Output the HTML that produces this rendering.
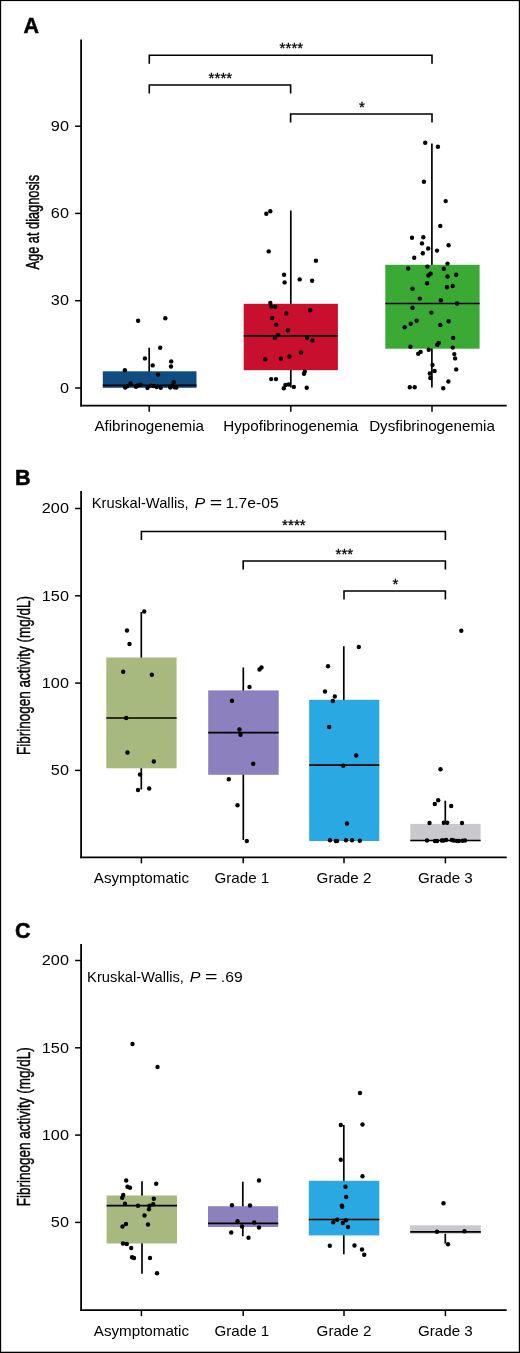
<!DOCTYPE html>
<html lang="en">
<head>
<meta charset="utf-8">
<title>Figure: age at diagnosis and fibrinogen activity</title>
<style>
html,body{margin:0;padding:0;background:#fff;}
body{width:520px;height:1353px;overflow:hidden;position:relative;}
svg{display:block;position:absolute;left:0;top:0;}
svg text{font-family:"Liberation Sans", sans-serif;fill:#000;}
svg circle{fill:#000;}
</style>
</head>
<body>
<svg width="520" height="1353" viewBox="0 0 520 1353">
<rect x="0" y="0" width="520" height="1353" fill="#fff"/>
<rect x="0" y="0" width="1.15" height="1353" fill="#000"/>
<rect x="0" y="0" width="520" height="1.1" fill="#000"/>
<rect x="518.8" y="0" width="1.2" height="1353" fill="#000"/>
<rect x="0" y="1351.7" width="520" height="1.3" fill="#000"/>
<g id="panelA">
<text x="23.40" y="32.60" font-size="21.5" text-anchor="start" font-weight="bold" stroke="#000" stroke-width="0.5">A</text>
<line x1="81.10" y1="39.50" x2="81.10" y2="406.60" stroke="#000" stroke-width="1.8"/>
<line x1="80.20" y1="405.70" x2="506.70" y2="405.70" stroke="#000" stroke-width="1.8"/>
<line x1="75.10" y1="126.20" x2="81.10" y2="126.20" stroke="#000" stroke-width="1.5"/>
<text transform="translate(68.90 130.90) scale(1.135 1)" font-size="14.3" text-anchor="end" font-weight="normal">90</text>
<line x1="75.10" y1="213.40" x2="81.10" y2="213.40" stroke="#000" stroke-width="1.5"/>
<text transform="translate(68.90 218.10) scale(1.135 1)" font-size="14.3" text-anchor="end" font-weight="normal">60</text>
<line x1="75.10" y1="300.70" x2="81.10" y2="300.70" stroke="#000" stroke-width="1.5"/>
<text transform="translate(68.90 305.40) scale(1.135 1)" font-size="14.3" text-anchor="end" font-weight="normal">30</text>
<line x1="75.10" y1="388.00" x2="81.10" y2="388.00" stroke="#000" stroke-width="1.5"/>
<text transform="translate(68.90 392.70) scale(1.135 1)" font-size="14.3" text-anchor="end" font-weight="normal">0</text>
<line x1="149.20" y1="405.70" x2="149.20" y2="411.70" stroke="#000" stroke-width="1.5"/>
<text transform="translate(149.20 431.30) scale(1.1 1)" font-size="13.8" text-anchor="middle" font-weight="normal">Afibrinogenemia</text>
<line x1="290.80" y1="405.70" x2="290.80" y2="411.70" stroke="#000" stroke-width="1.5"/>
<text transform="translate(290.80 431.30) scale(1.1 1)" font-size="13.8" text-anchor="middle" font-weight="normal">Hypofibrinogenemia</text>
<line x1="432.00" y1="405.70" x2="432.00" y2="411.70" stroke="#000" stroke-width="1.5"/>
<text transform="translate(432.00 431.30) scale(1.1 1)" font-size="13.8" text-anchor="middle" font-weight="normal">Dysfibrinogenemia</text>
<text transform="translate(39.00 222.20) rotate(-90) scale(0.695 1)" font-size="18.4" text-anchor="middle" stroke="#000" stroke-width="0.45">Age at diagnosis</text>
<path d="M149.30 63.80V55.20H432.00V63.80" fill="none" stroke="#000" stroke-width="1.6"/>
<text x="291.40" y="53.30" font-size="15.0" text-anchor="middle" font-weight="normal" stroke="#000" stroke-width="0.3" letter-spacing="0.1">****</text>
<path d="M149.30 93.60V85.00H290.60V93.60" fill="none" stroke="#000" stroke-width="1.6"/>
<text x="220.40" y="83.10" font-size="15.0" text-anchor="middle" font-weight="normal" stroke="#000" stroke-width="0.3" letter-spacing="0.1">****</text>
<path d="M290.60 122.60V114.00H432.00V122.60" fill="none" stroke="#000" stroke-width="1.6"/>
<text x="361.90" y="112.10" font-size="15.0" text-anchor="middle" font-weight="normal" stroke="#000" stroke-width="0.3" letter-spacing="0.1">*</text>
<line x1="149.20" y1="347.70" x2="149.20" y2="387.80" stroke="#000" stroke-width="1.7"/>
<rect x="102.80" y="371.30" width="93.70" height="16.50" fill="#0f4c81"/>
<line x1="102.80" y1="385.30" x2="196.50" y2="385.30" stroke="#000" stroke-width="1.7"/>
<line x1="290.80" y1="210.50" x2="290.80" y2="387.50" stroke="#000" stroke-width="1.7"/>
<rect x="243.70" y="303.80" width="94.20" height="66.40" fill="#c8102e"/>
<line x1="243.70" y1="335.80" x2="337.90" y2="335.80" stroke="#000" stroke-width="1.7"/>
<line x1="431.90" y1="143.50" x2="431.90" y2="387.50" stroke="#000" stroke-width="1.7"/>
<rect x="385.30" y="264.80" width="94.30" height="83.90" fill="#3aaa35"/>
<line x1="385.30" y1="303.50" x2="479.60" y2="303.50" stroke="#000" stroke-width="1.7"/>
<circle cx="138.1" cy="320.7" r="2.2"/>
<circle cx="165.3" cy="318.3" r="2.2"/>
<circle cx="160.2" cy="347.7" r="2.2"/>
<circle cx="144.9" cy="358.4" r="2.2"/>
<circle cx="171.2" cy="361.4" r="2.2"/>
<circle cx="152.7" cy="365.4" r="2.2"/>
<circle cx="171.0" cy="366.5" r="2.2"/>
<circle cx="124.9" cy="370.3" r="2.2"/>
<circle cx="158.0" cy="374.6" r="2.2"/>
<circle cx="130.6" cy="383.5" r="2.2"/>
<circle cx="173.7" cy="382.1" r="2.2"/>
<circle cx="125.2" cy="387.5" r="2.2"/>
<circle cx="127.1" cy="386.3" r="2.2"/>
<circle cx="136.0" cy="386.8" r="2.2"/>
<circle cx="137.8" cy="385.5" r="2.2"/>
<circle cx="140.5" cy="384.8" r="2.2"/>
<circle cx="147.5" cy="387.9" r="2.2"/>
<circle cx="150.8" cy="385.6" r="2.2"/>
<circle cx="153.5" cy="386.0" r="2.2"/>
<circle cx="156.7" cy="387.0" r="2.2"/>
<circle cx="160.7" cy="387.8" r="2.2"/>
<circle cx="170.2" cy="387.5" r="2.2"/>
<circle cx="172.3" cy="385.8" r="2.2"/>
<circle cx="174.5" cy="387.2" r="2.2"/>
<circle cx="176.4" cy="387.6" r="2.2"/>
<circle cx="266.3" cy="213.7" r="2.2"/>
<circle cx="270.3" cy="211.3" r="2.2"/>
<circle cx="268.7" cy="251.4" r="2.2"/>
<circle cx="315.9" cy="260.8" r="2.2"/>
<circle cx="284.1" cy="274.8" r="2.2"/>
<circle cx="284.6" cy="282.4" r="2.2"/>
<circle cx="299.7" cy="279.4" r="2.2"/>
<circle cx="312.1" cy="280.7" r="2.2"/>
<circle cx="270.3" cy="303.0" r="2.2"/>
<circle cx="271.2" cy="306.5" r="2.2"/>
<circle cx="275.2" cy="306.7" r="2.2"/>
<circle cx="286.2" cy="313.4" r="2.2"/>
<circle cx="310.2" cy="310.2" r="2.2"/>
<circle cx="272.2" cy="318.0" r="2.2"/>
<circle cx="276.3" cy="324.7" r="2.2"/>
<circle cx="287.8" cy="330.2" r="2.2"/>
<circle cx="277.9" cy="335.0" r="2.2"/>
<circle cx="274.9" cy="337.9" r="2.2"/>
<circle cx="307.0" cy="337.9" r="2.2"/>
<circle cx="312.4" cy="340.4" r="2.2"/>
<circle cx="301.0" cy="352.5" r="2.2"/>
<circle cx="289.5" cy="356.5" r="2.2"/>
<circle cx="280.9" cy="358.7" r="2.2"/>
<circle cx="265.2" cy="359.2" r="2.2"/>
<circle cx="304.8" cy="371.6" r="2.2"/>
<circle cx="304.0" cy="373.7" r="2.2"/>
<circle cx="271.2" cy="379.1" r="2.2"/>
<circle cx="276.0" cy="379.1" r="2.2"/>
<circle cx="285.4" cy="385.0" r="2.2"/>
<circle cx="288.7" cy="384.5" r="2.2"/>
<circle cx="283.8" cy="388.3" r="2.2"/>
<circle cx="293.8" cy="386.9" r="2.2"/>
<circle cx="306.7" cy="387.7" r="2.2"/>
<circle cx="425.2" cy="142.7" r="2.2"/>
<circle cx="437.9" cy="146.7" r="2.2"/>
<circle cx="423.9" cy="181.7" r="2.2"/>
<circle cx="445.7" cy="201.1" r="2.2"/>
<circle cx="440.3" cy="225.9" r="2.2"/>
<circle cx="412.0" cy="237.7" r="2.2"/>
<circle cx="423.3" cy="237.2" r="2.2"/>
<circle cx="422.0" cy="243.4" r="2.2"/>
<circle cx="448.6" cy="245.2" r="2.2"/>
<circle cx="428.2" cy="248.5" r="2.2"/>
<circle cx="437.0" cy="250.6" r="2.2"/>
<circle cx="422.8" cy="253.3" r="2.2"/>
<circle cx="414.2" cy="257.7" r="2.2"/>
<circle cx="447.5" cy="263.6" r="2.2"/>
<circle cx="427.4" cy="266.6" r="2.2"/>
<circle cx="408.2" cy="268.5" r="2.2"/>
<circle cx="443.8" cy="268.7" r="2.2"/>
<circle cx="430.6" cy="273.8" r="2.2"/>
<circle cx="428.4" cy="275.5" r="2.2"/>
<circle cx="447.5" cy="276.5" r="2.2"/>
<circle cx="456.2" cy="274.7" r="2.2"/>
<circle cx="427.1" cy="283.3" r="2.2"/>
<circle cx="412.5" cy="288.7" r="2.2"/>
<circle cx="447.0" cy="287.3" r="2.2"/>
<circle cx="452.7" cy="286.0" r="2.2"/>
<circle cx="419.8" cy="298.6" r="2.2"/>
<circle cx="440.8" cy="300.2" r="2.2"/>
<circle cx="457.0" cy="303.5" r="2.2"/>
<circle cx="412.5" cy="307.8" r="2.2"/>
<circle cx="431.4" cy="312.6" r="2.2"/>
<circle cx="416.6" cy="320.7" r="2.2"/>
<circle cx="410.7" cy="323.7" r="2.2"/>
<circle cx="404.7" cy="327.2" r="2.2"/>
<circle cx="448.6" cy="321.2" r="2.2"/>
<circle cx="440.3" cy="325.0" r="2.2"/>
<circle cx="453.2" cy="337.9" r="2.2"/>
<circle cx="438.7" cy="343.0" r="2.2"/>
<circle cx="437.3" cy="344.7" r="2.2"/>
<circle cx="410.4" cy="346.8" r="2.2"/>
<circle cx="452.7" cy="347.6" r="2.2"/>
<circle cx="428.7" cy="349.8" r="2.2"/>
<circle cx="420.6" cy="351.9" r="2.2"/>
<circle cx="418.2" cy="353.8" r="2.2"/>
<circle cx="454.3" cy="354.1" r="2.2"/>
<circle cx="455.1" cy="358.4" r="2.2"/>
<circle cx="432.5" cy="364.9" r="2.2"/>
<circle cx="456.2" cy="369.4" r="2.2"/>
<circle cx="434.6" cy="371.0" r="2.2"/>
<circle cx="429.8" cy="373.5" r="2.2"/>
<circle cx="430.3" cy="378.0" r="2.2"/>
<circle cx="448.4" cy="381.5" r="2.2"/>
<circle cx="409.8" cy="387.2" r="2.2"/>
<circle cx="414.7" cy="387.2" r="2.2"/>
<circle cx="443.2" cy="388.3" r="2.2"/>
</g>
<g id="panelB">
<text x="15.00" y="485.30" font-size="21.5" text-anchor="start" font-weight="bold" stroke="#000" stroke-width="0.5">B</text>
<line x1="81.10" y1="491.00" x2="81.10" y2="858.20" stroke="#000" stroke-width="1.8"/>
<line x1="80.20" y1="857.30" x2="506.70" y2="857.30" stroke="#000" stroke-width="1.8"/>
<line x1="75.10" y1="508.50" x2="81.10" y2="508.50" stroke="#000" stroke-width="1.5"/>
<text transform="translate(68.90 513.20) scale(1.135 1)" font-size="14.3" text-anchor="end" font-weight="normal">200</text>
<line x1="75.10" y1="595.80" x2="81.10" y2="595.80" stroke="#000" stroke-width="1.5"/>
<text transform="translate(68.90 600.50) scale(1.135 1)" font-size="14.3" text-anchor="end" font-weight="normal">150</text>
<line x1="75.10" y1="683.10" x2="81.10" y2="683.10" stroke="#000" stroke-width="1.5"/>
<text transform="translate(68.90 687.80) scale(1.135 1)" font-size="14.3" text-anchor="end" font-weight="normal">100</text>
<line x1="75.10" y1="770.40" x2="81.10" y2="770.40" stroke="#000" stroke-width="1.5"/>
<text transform="translate(68.90 775.10) scale(1.135 1)" font-size="14.3" text-anchor="end" font-weight="normal">50</text>
<line x1="141.40" y1="857.30" x2="141.40" y2="863.30" stroke="#000" stroke-width="1.5"/>
<text transform="translate(141.40 883.10) scale(1.1 1)" font-size="13.8" text-anchor="middle" font-weight="normal">Asymptomatic</text>
<line x1="243.20" y1="857.30" x2="243.20" y2="863.30" stroke="#000" stroke-width="1.5"/>
<text transform="translate(241.90 883.10) scale(1.1 1)" font-size="13.8" text-anchor="middle" font-weight="normal">Grade 1</text>
<line x1="344.00" y1="857.30" x2="344.00" y2="863.30" stroke="#000" stroke-width="1.5"/>
<text transform="translate(344.00 883.10) scale(1.1 1)" font-size="13.8" text-anchor="middle" font-weight="normal">Grade 2</text>
<line x1="445.40" y1="857.30" x2="445.40" y2="863.30" stroke="#000" stroke-width="1.5"/>
<text transform="translate(445.40 883.10) scale(1.1 1)" font-size="13.8" text-anchor="middle" font-weight="normal">Grade 3</text>
<text transform="translate(30.20 675.50) rotate(-90) scale(0.734 1)" font-size="18.4" text-anchor="middle" stroke="#000" stroke-width="0.45">Fibrinogen activity (mg/dL)</text>
<g font-size="13.8">
<text transform="translate(91.80 507.6) scale(1.068 1)">Kruskal-Wallis,</text>
<text transform="translate(194.50 507.6) scale(1.17 1)" font-style="italic">P</text>
<text transform="translate(209.80 507.6) scale(1.55 1)">=</text>
<text transform="translate(225.50 507.6) scale(1.137 1)">1.7e-05</text>
</g>
<path d="M141.40 540.10V531.50H445.40V540.10" fill="none" stroke="#000" stroke-width="1.6"/>
<text x="293.90" y="529.60" font-size="15.0" text-anchor="middle" font-weight="normal" stroke="#000" stroke-width="0.3" letter-spacing="0.1">****</text>
<path d="M243.20 569.60V561.00H445.40V569.60" fill="none" stroke="#000" stroke-width="1.6"/>
<text x="344.40" y="559.10" font-size="15.0" text-anchor="middle" font-weight="normal" stroke="#000" stroke-width="0.3" letter-spacing="0.1">***</text>
<path d="M344.00 599.60V591.00H445.40V599.60" fill="none" stroke="#000" stroke-width="1.6"/>
<text x="395.40" y="589.10" font-size="15.0" text-anchor="middle" font-weight="normal" stroke="#000" stroke-width="0.3" letter-spacing="0.1">*</text>
<line x1="141.30" y1="612.00" x2="141.30" y2="789.50" stroke="#000" stroke-width="1.7"/>
<rect x="106.30" y="657.50" width="70.30" height="110.80" fill="#a8b97f"/>
<line x1="106.30" y1="718.00" x2="176.60" y2="718.00" stroke="#000" stroke-width="1.7"/>
<line x1="243.30" y1="667.50" x2="243.30" y2="840.00" stroke="#000" stroke-width="1.7"/>
<rect x="208.20" y="690.40" width="70.50" height="84.40" fill="#8d80bf"/>
<line x1="208.20" y1="732.60" x2="278.70" y2="732.60" stroke="#000" stroke-width="1.7"/>
<line x1="343.80" y1="646.20" x2="343.80" y2="841.00" stroke="#000" stroke-width="1.7"/>
<rect x="309.20" y="699.80" width="70.10" height="141.20" fill="#29a8e1"/>
<line x1="309.20" y1="765.20" x2="379.30" y2="765.20" stroke="#000" stroke-width="1.7"/>
<line x1="445.30" y1="800.70" x2="445.30" y2="841.00" stroke="#000" stroke-width="1.7"/>
<rect x="410.30" y="823.90" width="70.30" height="17.30" fill="#c9c9cd"/>
<line x1="410.30" y1="840.50" x2="480.60" y2="840.50" stroke="#000" stroke-width="1.7"/>
<circle cx="144.2" cy="611.5" r="2.2"/>
<circle cx="127.0" cy="630.5" r="2.2"/>
<circle cx="129.5" cy="644.0" r="2.2"/>
<circle cx="123.2" cy="671.8" r="2.2"/>
<circle cx="151.8" cy="674.8" r="2.2"/>
<circle cx="126.2" cy="718.0" r="2.2"/>
<circle cx="127.5" cy="752.5" r="2.2"/>
<circle cx="153.8" cy="761.5" r="2.2"/>
<circle cx="140.0" cy="774.5" r="2.2"/>
<circle cx="138.0" cy="790.0" r="2.2"/>
<circle cx="149.2" cy="788.5" r="2.2"/>
<circle cx="259.5" cy="669.5" r="2.2"/>
<circle cx="261.5" cy="667.5" r="2.2"/>
<circle cx="249.5" cy="687.0" r="2.2"/>
<circle cx="232.0" cy="700.8" r="2.2"/>
<circle cx="239.5" cy="729.5" r="2.2"/>
<circle cx="240.5" cy="734.8" r="2.2"/>
<circle cx="253.2" cy="763.8" r="2.2"/>
<circle cx="228.8" cy="779.2" r="2.2"/>
<circle cx="237.5" cy="805.2" r="2.2"/>
<circle cx="246.8" cy="841.0" r="2.2"/>
<circle cx="358.8" cy="647.0" r="2.2"/>
<circle cx="328.0" cy="666.2" r="2.2"/>
<circle cx="325.0" cy="691.5" r="2.2"/>
<circle cx="334.8" cy="696.5" r="2.2"/>
<circle cx="332.8" cy="701.0" r="2.2"/>
<circle cx="329.2" cy="727.0" r="2.2"/>
<circle cx="356.2" cy="755.5" r="2.2"/>
<circle cx="343.2" cy="765.8" r="2.2"/>
<circle cx="347.0" cy="823.5" r="2.2"/>
<circle cx="330.0" cy="840.3" r="2.2"/>
<circle cx="335.8" cy="841.0" r="2.2"/>
<circle cx="337.0" cy="841.0" r="2.2"/>
<circle cx="346.0" cy="840.2" r="2.2"/>
<circle cx="352.0" cy="840.3" r="2.2"/>
<circle cx="359.8" cy="840.8" r="2.2"/>
<circle cx="461.3" cy="630.7" r="2.2"/>
<circle cx="440.5" cy="769.2" r="2.2"/>
<circle cx="438.2" cy="800.2" r="2.2"/>
<circle cx="434.8" cy="804.0" r="2.2"/>
<circle cx="451.2" cy="806.0" r="2.2"/>
<circle cx="429.5" cy="823.0" r="2.2"/>
<circle cx="443.8" cy="822.8" r="2.2"/>
<circle cx="447.2" cy="822.8" r="2.2"/>
<circle cx="462.0" cy="823.0" r="2.2"/>
<circle cx="427.0" cy="840.5" r="2.2"/>
<circle cx="435.0" cy="841.0" r="2.2"/>
<circle cx="437.0" cy="841.0" r="2.2"/>
<circle cx="441.8" cy="840.5" r="2.2"/>
<circle cx="443.5" cy="840.5" r="2.2"/>
<circle cx="446.2" cy="840.0" r="2.2"/>
<circle cx="451.8" cy="840.0" r="2.2"/>
<circle cx="453.8" cy="840.5" r="2.2"/>
<circle cx="457.0" cy="841.0" r="2.2"/>
<circle cx="458.8" cy="841.0" r="2.2"/>
<circle cx="462.5" cy="840.8" r="2.2"/>
<circle cx="465.0" cy="840.5" r="2.2"/>
</g>
<g id="panelC">
<text x="15.00" y="938.30" font-size="21.5" text-anchor="start" font-weight="bold" stroke="#000" stroke-width="0.5">C</text>
<line x1="81.10" y1="944.00" x2="81.10" y2="1311.00" stroke="#000" stroke-width="1.8"/>
<line x1="80.20" y1="1310.10" x2="506.70" y2="1310.10" stroke="#000" stroke-width="1.8"/>
<line x1="75.10" y1="960.50" x2="81.10" y2="960.50" stroke="#000" stroke-width="1.5"/>
<text transform="translate(68.90 965.20) scale(1.135 1)" font-size="14.3" text-anchor="end" font-weight="normal">200</text>
<line x1="75.10" y1="1047.80" x2="81.10" y2="1047.80" stroke="#000" stroke-width="1.5"/>
<text transform="translate(68.90 1052.50) scale(1.135 1)" font-size="14.3" text-anchor="end" font-weight="normal">150</text>
<line x1="75.10" y1="1135.10" x2="81.10" y2="1135.10" stroke="#000" stroke-width="1.5"/>
<text transform="translate(68.90 1139.80) scale(1.135 1)" font-size="14.3" text-anchor="end" font-weight="normal">100</text>
<line x1="75.10" y1="1222.40" x2="81.10" y2="1222.40" stroke="#000" stroke-width="1.5"/>
<text transform="translate(68.90 1227.10) scale(1.135 1)" font-size="14.3" text-anchor="end" font-weight="normal">50</text>
<line x1="141.40" y1="1310.10" x2="141.40" y2="1316.10" stroke="#000" stroke-width="1.5"/>
<text transform="translate(141.40 1335.60) scale(1.1 1)" font-size="13.8" text-anchor="middle" font-weight="normal">Asymptomatic</text>
<line x1="243.20" y1="1310.10" x2="243.20" y2="1316.10" stroke="#000" stroke-width="1.5"/>
<text transform="translate(241.90 1335.60) scale(1.1 1)" font-size="13.8" text-anchor="middle" font-weight="normal">Grade 1</text>
<line x1="344.00" y1="1310.10" x2="344.00" y2="1316.10" stroke="#000" stroke-width="1.5"/>
<text transform="translate(344.00 1335.60) scale(1.1 1)" font-size="13.8" text-anchor="middle" font-weight="normal">Grade 2</text>
<line x1="445.40" y1="1310.10" x2="445.40" y2="1316.10" stroke="#000" stroke-width="1.5"/>
<text transform="translate(445.40 1335.60) scale(1.1 1)" font-size="13.8" text-anchor="middle" font-weight="normal">Grade 3</text>
<text transform="translate(30.20 1126.80) rotate(-90) scale(0.734 1)" font-size="18.4" text-anchor="middle" stroke="#000" stroke-width="0.45">Fibrinogen activity (mg/dL)</text>
<g font-size="13.8">
<text transform="translate(87.10 982.3) scale(1.068 1)">Kruskal-Wallis,</text>
<text transform="translate(189.80 982.3) scale(1.17 1)" font-style="italic">P</text>
<text transform="translate(205.10 982.3) scale(1.55 1)">=</text>
<text transform="translate(220.80 982.3) scale(1.137 1)">.69</text>
</g>
<line x1="142.00" y1="1181.20" x2="142.00" y2="1273.70" stroke="#000" stroke-width="1.7"/>
<rect x="106.60" y="1195.50" width="70.40" height="48.00" fill="#a8b97f"/>
<line x1="106.60" y1="1205.70" x2="177.00" y2="1205.70" stroke="#000" stroke-width="1.7"/>
<line x1="242.80" y1="1181.70" x2="242.80" y2="1236.30" stroke="#000" stroke-width="1.7"/>
<rect x="208.00" y="1206.20" width="70.20" height="20.80" fill="#8d80bf"/>
<line x1="208.00" y1="1223.40" x2="278.20" y2="1223.40" stroke="#000" stroke-width="1.7"/>
<line x1="343.80" y1="1125.00" x2="343.80" y2="1254.30" stroke="#000" stroke-width="1.7"/>
<rect x="308.80" y="1180.80" width="70.50" height="54.60" fill="#29a8e1"/>
<line x1="308.80" y1="1219.50" x2="379.30" y2="1219.50" stroke="#000" stroke-width="1.7"/>
<line x1="445.30" y1="1229.00" x2="445.30" y2="1243.60" stroke="#000" stroke-width="1.7"/>
<rect x="410.20" y="1225.30" width="70.60" height="8.50" fill="#c9c9cd"/>
<line x1="410.20" y1="1231.80" x2="480.80" y2="1231.80" stroke="#000" stroke-width="1.7"/>
<circle cx="132.5" cy="1044.0" r="2.2"/>
<circle cx="157.5" cy="1067.0" r="2.2"/>
<circle cx="126.2" cy="1180.5" r="2.2"/>
<circle cx="156.2" cy="1183.8" r="2.2"/>
<circle cx="127.5" cy="1186.8" r="2.2"/>
<circle cx="130.0" cy="1187.8" r="2.2"/>
<circle cx="123.2" cy="1195.0" r="2.2"/>
<circle cx="122.2" cy="1197.8" r="2.2"/>
<circle cx="153.8" cy="1198.8" r="2.2"/>
<circle cx="125.0" cy="1203.8" r="2.2"/>
<circle cx="153.2" cy="1204.2" r="2.2"/>
<circle cx="138.0" cy="1205.8" r="2.2"/>
<circle cx="149.5" cy="1205.8" r="2.2"/>
<circle cx="149.0" cy="1209.2" r="2.2"/>
<circle cx="144.5" cy="1215.5" r="2.2"/>
<circle cx="126.0" cy="1224.0" r="2.2"/>
<circle cx="122.5" cy="1226.5" r="2.2"/>
<circle cx="148.0" cy="1224.5" r="2.2"/>
<circle cx="123.0" cy="1243.5" r="2.2"/>
<circle cx="126.8" cy="1244.0" r="2.2"/>
<circle cx="131.2" cy="1248.0" r="2.2"/>
<circle cx="132.0" cy="1257.2" r="2.2"/>
<circle cx="134.0" cy="1258.0" r="2.2"/>
<circle cx="150.0" cy="1258.0" r="2.2"/>
<circle cx="157.0" cy="1273.2" r="2.2"/>
<circle cx="259.0" cy="1180.5" r="2.2"/>
<circle cx="232.0" cy="1205.2" r="2.2"/>
<circle cx="250.0" cy="1205.5" r="2.2"/>
<circle cx="237.5" cy="1221.2" r="2.2"/>
<circle cx="254.2" cy="1222.5" r="2.2"/>
<circle cx="242.0" cy="1226.5" r="2.2"/>
<circle cx="259.0" cy="1227.5" r="2.2"/>
<circle cx="231.2" cy="1232.5" r="2.2"/>
<circle cx="248.5" cy="1237.8" r="2.2"/>
<circle cx="360.0" cy="1093.0" r="2.2"/>
<circle cx="340.8" cy="1125.0" r="2.2"/>
<circle cx="362.5" cy="1124.5" r="2.2"/>
<circle cx="340.8" cy="1159.8" r="2.2"/>
<circle cx="362.5" cy="1176.2" r="2.2"/>
<circle cx="345.5" cy="1186.8" r="2.2"/>
<circle cx="346.2" cy="1197.0" r="2.2"/>
<circle cx="341.8" cy="1205.8" r="2.2"/>
<circle cx="342.2" cy="1206.8" r="2.2"/>
<circle cx="337.2" cy="1219.8" r="2.2"/>
<circle cx="346.0" cy="1220.2" r="2.2"/>
<circle cx="333.2" cy="1222.2" r="2.2"/>
<circle cx="342.8" cy="1223.0" r="2.2"/>
<circle cx="348.0" cy="1227.0" r="2.2"/>
<circle cx="329.8" cy="1245.8" r="2.2"/>
<circle cx="354.5" cy="1245.5" r="2.2"/>
<circle cx="362.0" cy="1249.5" r="2.2"/>
<circle cx="364.2" cy="1254.8" r="2.2"/>
<circle cx="443.5" cy="1203.2" r="2.2"/>
<circle cx="437.0" cy="1231.8" r="2.2"/>
<circle cx="464.5" cy="1231.2" r="2.2"/>
<circle cx="448.0" cy="1244.2" r="2.2"/>
</g>
</svg>
</body>
</html>
